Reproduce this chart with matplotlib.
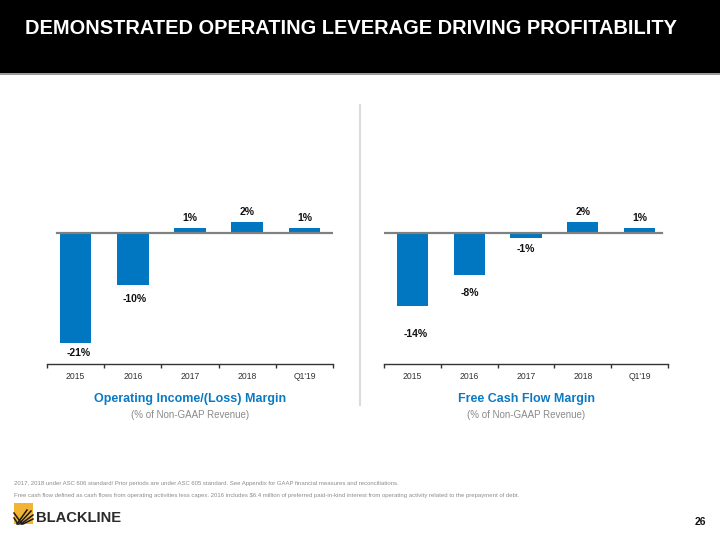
import matplotlib.pyplot as plt
from matplotlib.patches import Rectangle

W, H = 720, 540

categories = ['2015', '2016', '2017', '2018', "Q1'19"]
op_margin = [-21, -10, 1, 2, 1]
fcf_margin = [-14, -8, -1, 2, 1]
op_labels = ['-21%', '-10%', '1%', '2%', '1%']
fcf_labels = ['-14%', '-8%', '-1%', '2%', '1%']

# label offsets in pixels (dx, dy) as placed on the slide
op_offsets = [(3, -10), (2, -14), (0, 10), (0, 10), (0, 10)]
fcf_offsets = [(3, -28), (1, -18), (0, -11), (0, 10), (0, 10)]

blue = '#0077C0'
title_blue = '#0A7AC4'

fig = plt.figure(figsize=(7.2, 5.4), dpi=100)
fig.patch.set_facecolor('white')

def fx(px):
    return px / W

def fy(py):
    return 1 - py / H

# header band
fig.patches.append(Rectangle((0, fy(73)), 1, 73 / H, transform=fig.transFigure,
                             facecolor='black', edgecolor='none', zorder=0))
fig.patches.append(Rectangle((0, fy(75)), 1, 2 / H, transform=fig.transFigure,
                             facecolor='#9a9a9a', edgecolor='none', zorder=0))
fig.text(fx(25), fy(28), 'DEMONSTRATED OPERATING LEVERAGE DRIVING PROFITABILITY',
         color='white', fontsize=14.4, fontweight='bold', va='center', ha='left',
         family=['Liberation Sans Narrow', 'Liberation Sans', 'DejaVu Sans'])

# divider
fig.add_artist(plt.Line2D([fx(360), fx(360)], [fy(105), fy(405)], color='#dcdcdc',
                          linewidth=1.6, transform=fig.transFigure))


def draw_panel(left, right, zero_from, zero_to, values, labels, offsets, title, subtitle):
    ax = fig.add_axes([fx(left), fy(364), fx(right - left), (364 - 190) / H])
    x = range(len(values))
    ax.bar(x, values, width=0.55, color=blue, zorder=2)
    ax.set_xlim(-0.5, len(values) - 0.5)
    ax.set_ylim(-25, 8.19)
    ax.axhline(0, xmin=(zero_from - left) / (right - left), xmax=(zero_to - left) / (right - left),
               color='#808080', linewidth=1.6, zorder=3)
    for s in ['top', 'right', 'left']:
        ax.spines[s].set_visible(False)
    ax.spines['bottom'].set_color('#333333')
    ax.spines['bottom'].set_linewidth(1.0)
    ax.set_yticks([])
    ax.set_xticks([i - 0.5 for i in range(len(values) + 1)])
    ax.set_xticklabels([])
    ax.tick_params(axis='x', which='major', direction='out', length=3, width=1.0, color='#333333')
    ax.set_xticks(list(x), minor=True)
    ax.set_xticklabels(categories, minor=True, fontsize=6.2, color='#333333',
                       family=['Liberation Sans'])
    ax.tick_params(axis='x', which='minor', length=0, pad=6)
    for i, (v, lab) in enumerate(zip(values, labels)):
        dx, dy = offsets[i]
        ax.annotate(lab, (i, v), xytext=(dx * 0.72, dy * 0.72), textcoords='offset points',
                    ha='center', va='center', fontsize=7.5, fontweight='bold',
                    color='#111111', family=['Liberation Sans'])
    cx = fx((left + right) / 2)
    fig.text(cx, fy(399), title, ha='center', va='center', fontsize=9, fontweight='bold',
             color=title_blue, family=['Liberation Sans'])
    fig.text(cx, fy(415), subtitle, ha='center', va='center', fontsize=7,
             color='#8a8a8a', family=['Liberation Sans'])
    ax.patch.set_alpha(0)
    return ax


draw_panel(47, 333, 57, 333, op_margin, op_labels, op_offsets,
           'Operating Income/(Loss) Margin', '(% of Non-GAAP Revenue)')
draw_panel(384, 668, 385, 662, fcf_margin, fcf_labels, fcf_offsets,
           'Free Cash Flow Margin', '(% of Non-GAAP Revenue)')

# footnotes
fig.text(fx(14), fy(484), '2017, 2018 under ASC 606 standard/ Prior periods are under ASC 605 standard. '
         'See Appendix for GAAP financial measures and reconciliations.',
         fontsize=4.35, color='#8c8c8c', va='center', ha='left', family=['Liberation Sans'])
fig.text(fx(14), fy(496), 'Free cash flow defined as cash flows from operating activities less capex. '
         '2016 includes $6.4 million of preferred paid-in-kind interest from operating activity '
         'related to the prepayment of debt.',
         fontsize=4.35, color='#8c8c8c', va='center', ha='left', family=['Liberation Sans'])

# logo: yellow square with black fan strokes
fig.patches.append(Rectangle((fx(14), fy(524)), fx(19), 21 / H, transform=fig.transFigure,
                             facecolor='#F3B334', edgecolor='none'))
fan = [((17, 524), (27, 510)), ((19, 524), (31, 511)), ((21, 524), (33, 515)),
       ((23, 524), (33, 519)), ((14, 513), (22, 524)), ((14, 518), (18, 524))]
for (xa, ya), (xb, yb) in fan:
    fig.add_artist(plt.Line2D([fx(xa), fx(xb)], [fy(ya), fy(yb)],
                              color='#1a1a1a', linewidth=1.1, transform=fig.transFigure))
fig.text(fx(36), fy(518), 'BLACKLINE', fontsize=10.6, fontweight='bold', color='#2b2b2b',
         va='center', ha='left', family=['Liberation Sans'])

fig.text(fx(706), fy(522), '26', fontsize=7.5, fontweight='bold', color='#111111',
         va='center', ha='right', family=['Liberation Sans'])

fig.savefig('out.png', dpi=100)
